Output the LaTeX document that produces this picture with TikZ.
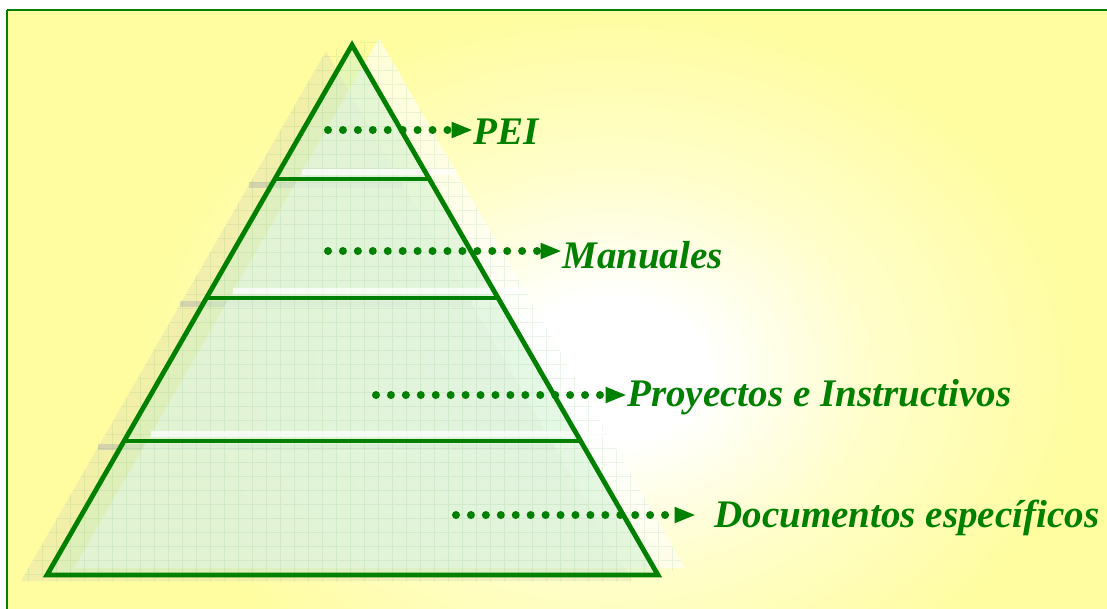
\documentclass[tikz,border=0pt]{standalone}
\usepackage{fontspec}
\newfontfamily\lblfont{Liberation Serif}
\usetikzlibrary{calc,arrows.meta}
\definecolor{bgy}{RGB}{255,253,160}
\definecolor{dkgreen}{RGB}{0,128,0}
\definecolor{pyrfill}{RGB}{205,240,205}
\definecolor{beige}{RGB}{215,212,185}
\pgfdeclareradialshading{bgshade}{\pgfpoint{0bp}{0bp}}{color(0bp)=(white); color(5bp)=(white); color(14bp)=(white!45!bgy); color(25bp)=(bgy); color(50bp)=(bgy)}
\tikzset{
  frame/.style={draw=dkgreen, line width=2.2pt},
  edge/.style={draw=dkgreen, line width=3.6pt, line join=miter},
  dotline/.style={dkgreen, line width=6pt, line cap=round, dash pattern=on 0pt off 11.2pt,
     -{Triangle[length=16pt,width=11pt]}},
  lbl/.style={text=dkgreen, font=\lblfont\bfseries\itshape\fontsize{29.3}{32}\selectfont, inner sep=0pt, anchor=west},
}
\begin{document}
\begin{tikzpicture}[x=0.75pt,y=-0.75pt]
\useasboundingbox (0,0) rectangle (1107,608);
\fill[white] (0,0) rectangle (1107,608);
% background
\begin{scope}
\clip (7,10) rectangle (1120,620);
\fill[bgy] (7,10) rectangle (1120,620);
\shade[shading=bgshade] (610,370) ellipse [x radius=470, y radius=360];
\end{scope}
\draw[frame] (7,10) -- (7,620) (7,10) -- (1120,10);
% coordinates of the pyramids
\coordinate (A) at (352,45);
\coordinate (BL) at (47,575);
\coordinate (BR) at (658,575);
\coordinate (Ag) at (326,51);
\coordinate (BLg) at (21,581);
\coordinate (BRg) at (632,581);
\coordinate (Aw) at (379,38);
\coordinate (BLw) at (74,568);
\coordinate (BRw) at (685,568);
% shadow copy (down-left)
\fill[beige, opacity=0.32] (Ag) -- (BLg) -- (BRg) -- cycle;
\foreach \t in {0.2528,0.4774,0.7472}
  \fill[gray!60, opacity=0.45] ($(Ag)!\t!(BLg)+(0,-3)$) rectangle ($(Ag)!\t!(BRg)+(0,3)$);
% highlight copy (up-right)
\fill[white, opacity=0.6] (Aw) -- (BLw) -- (BRw) -- cycle;
% main pyramid fill and grid
\fill[pyrfill, opacity=0.5] (A) -- (BL) -- (BR) -- cycle;
\begin{scope}
\clip (Ag) -- (BLg) -- (BRg) -- (BRw) -- (Aw) -- cycle;
\draw[green!30!gray, opacity=0.12, line width=0.4pt, step=10.5pt] (0,0) grid (1107,608);
\end{scope}
\foreach \t in {0.2528,0.4774,0.7472}
  \fill[white, opacity=0.75] ($(Aw)!\t!(BLw)+(0,-3)$) rectangle ($(Aw)!\t!(BRw)+(0,3)$);
% main outline and dividers
\draw[edge] (A) -- (BL) -- (BR) -- cycle;
\draw[edge] ($(A)!0.2528!(BL)$) -- ($(A)!0.2528!(BR)$);
\draw[edge] ($(A)!0.4774!(BL)$) -- ($(A)!0.4774!(BR)$);
\draw[edge] ($(A)!0.7472!(BL)$) -- ($(A)!0.7472!(BR)$);
% labels
\node[lbl] (t1) at (473,132) {PEI};
\node[lbl] (t2) at (562,255) {Manuales};
\node[lbl] (t3) at (627,397) {Proyectos e Instructivos};
\node[lbl] (t4) at (714,518) {Documentos espec\'ificos};
\coordinate (s1) at (328,130);
\coordinate (s2) at (328,251);
\coordinate (s3) at (376,395);
\coordinate (s4) at (456,515);
\draw[dotline] (s1) -- (s1 -| t1.west);
\draw[dotline] (s2) -- (s2 -| t2.west);
\draw[dotline] (s3) -- (s3 -| t3.west);
\draw[dotline] (s4) -- ($(s4 -| t4.west)+(-18,0)$);
\end{tikzpicture}
\end{document}
